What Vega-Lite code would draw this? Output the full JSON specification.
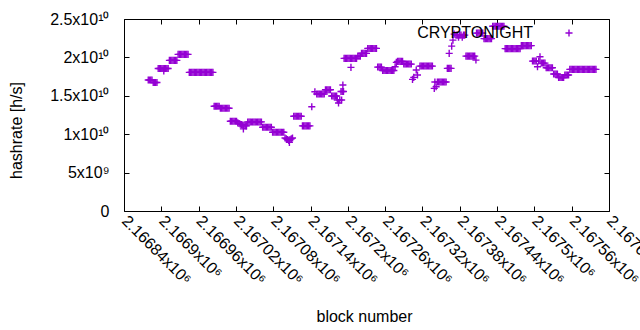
{
"$schema": "https://vega.github.io/schema/vega-lite/v6.json",
"width": 485, "height": 192,
"autosize": {"type": "none"},
"padding": {"left": 124, "top": 19, "right": 31, "bottom": 119},
"background": "white",
"config": {"view": {"stroke": "#000", "strokeWidth": 1}, "font": "Liberation Sans",
  "axis": {"grid": false, "domain": false, "tickColor": "#000", "labelColor": "#000", "titleColor": "#000", "labelFontSize": 16, "titleFontSize": 16, "titleFontWeight": "normal", "tickSize": -5, "labelOverlap": false, "labelFlush": false, "labelBound": false}},
"data": {"values": [
{"b":2166879,"h":1.705e10},{"b":2166881,"h":1.705e10},{"b":2166883,"h":1.705e10},{"b":2166885,"h":1.705e10},
{"b":2166887,"h":1.673e10},{"b":2166889,"h":1.673e10},{"b":2166891,"h":1.673e10},{"b":2166893,"h":1.673e10},
{"b":2166895,"h":1.855e10},{"b":2166897,"h":1.855e10},{"b":2166899,"h":1.855e10},{"b":2166901,"h":1.855e10},{"b":2166903,"h":1.855e10},{"b":2166905,"h":1.855e10},{"b":2166907,"h":1.855e10},{"b":2166909,"h":1.855e10},{"b":2166911,"h":1.855e10},{"b":2166904,"h":1.824e10},
{"b":2166913,"h":1.961e10},{"b":2166915,"h":1.961e10},{"b":2166917,"h":1.961e10},{"b":2166919,"h":1.961e10},{"b":2166921,"h":1.961e10},{"b":2166923,"h":1.961e10},{"b":2166925,"h":1.961e10},
{"b":2166927,"h":2.039e10},{"b":2166929,"h":2.039e10},{"b":2166931,"h":2.039e10},{"b":2166933,"h":2.039e10},{"b":2166935,"h":2.039e10},{"b":2166937,"h":2.039e10},{"b":2166939,"h":2.039e10},{"b":2166941,"h":2.039e10},{"b":2166943,"h":2.039e10},
{"b":2166945,"h":1.805e10},{"b":2166947,"h":1.805e10},{"b":2166949,"h":1.805e10},{"b":2166951,"h":1.805e10},{"b":2166953,"h":1.805e10},{"b":2166955,"h":1.805e10},{"b":2166957,"h":1.805e10},{"b":2166959,"h":1.805e10},{"b":2166961,"h":1.805e10},{"b":2166963,"h":1.805e10},{"b":2166965,"h":1.805e10},{"b":2166967,"h":1.805e10},{"b":2166969,"h":1.805e10},{"b":2166971,"h":1.805e10},{"b":2166973,"h":1.805e10},{"b":2166975,"h":1.805e10},{"b":2166977,"h":1.805e10},{"b":2166979,"h":1.805e10},{"b":2166981,"h":1.805e10},{"b":2166983,"h":1.805e10},
{"b":2166985,"h":1.364e10},{"b":2166987,"h":1.364e10},{"b":2166989,"h":1.364e10},{"b":2166991,"h":1.364e10},{"b":2166993,"h":1.364e10},
{"b":2166995,"h":1.338e10},{"b":2166997,"h":1.338e10},{"b":2166999,"h":1.338e10},{"b":2167001,"h":1.338e10},{"b":2167003,"h":1.338e10},{"b":2167005,"h":1.338e10},{"b":2167007,"h":1.338e10},{"b":2167009,"h":1.338e10},
{"b":2167011,"h":1.169e10},{"b":2167013,"h":1.169e10},{"b":2167015,"h":1.169e10},{"b":2167017,"h":1.169e10},{"b":2167019,"h":1.169e10},{"b":2167021,"h":1.169e10},
{"b":2167023,"h":1.147e10},{"b":2167025,"h":1.14e10},{"b":2167027,"h":1.13e10},{"b":2167029,"h":1.125e10},{"b":2167031,"h":1.12e10},{"b":2167033,"h":1.115e10},{"b":2167035,"h":1.11e10},{"b":2167037,"h":1.108e10},{"b":2167032,"h":1.069e10},
{"b":2167039,"h":1.16e10},{"b":2167041,"h":1.16e10},{"b":2167043,"h":1.16e10},{"b":2167045,"h":1.16e10},{"b":2167047,"h":1.16e10},{"b":2167049,"h":1.16e10},{"b":2167051,"h":1.16e10},{"b":2167053,"h":1.16e10},{"b":2167055,"h":1.16e10},{"b":2167057,"h":1.16e10},{"b":2167059,"h":1.16e10},{"b":2167061,"h":1.16e10},
{"b":2167063,"h":1.091e10},{"b":2167065,"h":1.091e10},{"b":2167067,"h":1.091e10},{"b":2167069,"h":1.091e10},{"b":2167071,"h":1.091e10},{"b":2167073,"h":1.091e10},{"b":2167075,"h":1.091e10},{"b":2167077,"h":1.091e10},
{"b":2167079,"h":1.026e10},{"b":2167081,"h":1.026e10},{"b":2167083,"h":1.026e10},{"b":2167085,"h":1.026e10},{"b":2167087,"h":1.026e10},{"b":2167089,"h":1.026e10},{"b":2167091,"h":1.026e10},{"b":2167093,"h":1.026e10},{"b":2167095,"h":1.026e10},{"b":2167097,"h":1.026e10},
{"b":2167099,"h":9.5e9},{"b":2167101,"h":9.4e9},{"b":2167103,"h":9.3e9},{"b":2167105,"h":9.2e9},{"b":2167107,"h":9.3e9},{"b":2167109,"h":9.4e9},{"b":2167111,"h":9.5e9},{"b":2167106,"h":8.94e9},
{"b":2167113,"h":1.234e10},{"b":2167115,"h":1.234e10},{"b":2167117,"h":1.234e10},{"b":2167119,"h":1.234e10},{"b":2167121,"h":1.234e10},{"b":2167123,"h":1.234e10},{"b":2167125,"h":1.234e10},
{"b":2167127,"h":1.108e10},{"b":2167129,"h":1.108e10},{"b":2167131,"h":1.108e10},{"b":2167133,"h":1.108e10},{"b":2167135,"h":1.108e10},{"b":2167137,"h":1.108e10},{"b":2167139,"h":1.108e10},
{"b":2167142,"h":1.358e10},
{"b":2167147,"h":1.553e10},{"b":2167150,"h":1.523e10},{"b":2167152,"h":1.523e10},{"b":2167154,"h":1.523e10},{"b":2167156,"h":1.523e10},{"b":2167158,"h":1.523e10},{"b":2167160,"h":1.523e10},{"b":2167162,"h":1.523e10},
{"b":2167164,"h":1.579e10},{"b":2167166,"h":1.579e10},{"b":2167168,"h":1.579e10},{"b":2167170,"h":1.579e10},{"b":2167172,"h":1.579e10},
{"b":2167174,"h":1.497e10},{"b":2167176,"h":1.497e10},{"b":2167178,"h":1.497e10},{"b":2167180,"h":1.497e10},{"b":2167182,"h":1.497e10},
{"b":2167183,"h":1.445e10},{"b":2167185,"h":1.406e10},{"b":2167187,"h":1.445e10},{"b":2167189,"h":1.556e10},{"b":2167190,"h":1.445e10},{"b":2167191,"h":1.556e10},{"b":2167192,"h":1.64e10},{"b":2167193,"h":1.556e10},
{"b":2167194,"h":1.987e10},{"b":2167196,"h":1.987e10},{"b":2167198,"h":1.987e10},{"b":2167200,"h":1.987e10},{"b":2167202,"h":1.987e10},{"b":2167204,"h":1.987e10},{"b":2167206,"h":1.987e10},{"b":2167208,"h":1.987e10},{"b":2167210,"h":1.987e10},{"b":2167212,"h":1.987e10},{"b":2167214,"h":1.987e10},{"b":2167205,"h":1.87e10},
{"b":2167216,"h":2.017e10},{"b":2167218,"h":2.017e10},{"b":2167220,"h":2.017e10},
{"b":2167222,"h":2.052e10},{"b":2167224,"h":2.052e10},{"b":2167226,"h":2.052e10},{"b":2167228,"h":2.052e10},{"b":2167230,"h":2.052e10},
{"b":2167232,"h":2.117e10},{"b":2167234,"h":2.117e10},{"b":2167236,"h":2.117e10},{"b":2167238,"h":2.117e10},{"b":2167240,"h":2.117e10},{"b":2167242,"h":2.117e10},{"b":2167244,"h":2.117e10},{"b":2167246,"h":2.117e10},
{"b":2167248,"h":1.874e10},{"b":2167250,"h":1.874e10},{"b":2167252,"h":1.874e10},{"b":2167254,"h":1.874e10},
{"b":2167256,"h":1.829e10},{"b":2167258,"h":1.829e10},{"b":2167260,"h":1.829e10},{"b":2167262,"h":1.829e10},{"b":2167264,"h":1.829e10},{"b":2167266,"h":1.829e10},{"b":2167268,"h":1.829e10},{"b":2167270,"h":1.829e10},{"b":2167272,"h":1.829e10},{"b":2167274,"h":1.829e10},{"b":2167276,"h":1.878e10},
{"b":2167278,"h":1.935e10},{"b":2167280,"h":1.948e10},{"b":2167282,"h":1.948e10},{"b":2167284,"h":1.948e10},{"b":2167286,"h":1.948e10},{"b":2167288,"h":1.948e10},
{"b":2167290,"h":1.913e10},{"b":2167292,"h":1.913e10},{"b":2167294,"h":1.913e10},{"b":2167296,"h":1.913e10},{"b":2167298,"h":1.913e10},{"b":2167300,"h":1.913e10},{"b":2167302,"h":1.913e10},
{"b":2167304,"h":1.714e10},{"b":2167306,"h":1.74e10},{"b":2167310,"h":1.835e10},{"b":2167312,"h":1.77e10},
{"b":2167316,"h":1.887e10},{"b":2167318,"h":1.887e10},{"b":2167320,"h":1.887e10},{"b":2167322,"h":1.887e10},{"b":2167324,"h":1.887e10},{"b":2167326,"h":1.887e10},{"b":2167328,"h":1.887e10},{"b":2167330,"h":1.887e10},{"b":2167332,"h":1.887e10},{"b":2167334,"h":1.887e10},{"b":2167336,"h":1.887e10},
{"b":2167339,"h":1.597e10},{"b":2167342,"h":1.618e10},
{"b":2167340,"h":1.679e10},{"b":2167344,"h":1.679e10},{"b":2167346,"h":1.679e10},{"b":2167348,"h":1.679e10},{"b":2167350,"h":1.679e10},{"b":2167352,"h":1.679e10},{"b":2167354,"h":1.679e10},{"b":2167356,"h":1.679e10},{"b":2167358,"h":1.679e10},
{"b":2167360,"h":1.857e10},{"b":2167362,"h":1.857e10},{"b":2167364,"h":1.857e10},{"b":2167366,"h":1.857e10},
{"b":2167363,"h":2.052e10},{"b":2167367,"h":2.147e10},{"b":2167369,"h":2.225e10},{"b":2167371,"h":2.303e10},
{"b":2167374,"h":2.29e10},{"b":2167376,"h":2.29e10},{"b":2167378,"h":2.264e10},{"b":2167380,"h":2.29e10},{"b":2167382,"h":2.29e10},{"b":2167384,"h":2.264e10},{"b":2167386,"h":2.29e10},{"b":2167388,"h":2.29e10},
{"b":2167390,"h":2.017e10},{"b":2167392,"h":2.017e10},{"b":2167394,"h":2.017e10},{"b":2167396,"h":2.017e10},{"b":2167398,"h":2.017e10},{"b":2167400,"h":2.017e10},{"b":2167402,"h":2.017e10},{"b":2167404,"h":2.017e10},{"b":2167406,"h":1.965e10},
{"b":2167407,"h":2.316e10},{"b":2167409,"h":2.316e10},{"b":2167411,"h":2.316e10},{"b":2167413,"h":2.316e10},{"b":2167415,"h":2.316e10},{"b":2167417,"h":2.316e10},
{"b":2167419,"h":2.244e10},{"b":2167421,"h":2.244e10},{"b":2167423,"h":2.244e10},{"b":2167425,"h":2.244e10},{"b":2167427,"h":2.244e10},{"b":2167429,"h":2.244e10},{"b":2167431,"h":2.244e10},
{"b":2167433,"h":2.406e10},{"b":2167435,"h":2.406e10},{"b":2167437,"h":2.406e10},{"b":2167439,"h":2.406e10},{"b":2167441,"h":2.406e10},{"b":2167443,"h":2.406e10},{"b":2167445,"h":2.406e10},{"b":2167447,"h":2.406e10},{"b":2167449,"h":2.406e10},{"b":2167451,"h":2.406e10},
{"b":2167453,"h":2.114e10},{"b":2167455,"h":2.114e10},{"b":2167457,"h":2.114e10},{"b":2167459,"h":2.114e10},{"b":2167461,"h":2.114e10},{"b":2167463,"h":2.114e10},{"b":2167465,"h":2.114e10},{"b":2167467,"h":2.114e10},{"b":2167469,"h":2.114e10},{"b":2167471,"h":2.114e10},{"b":2167473,"h":2.114e10},{"b":2167475,"h":2.114e10},{"b":2167477,"h":2.114e10},
{"b":2167479,"h":2.153e10},{"b":2167481,"h":2.153e10},{"b":2167483,"h":2.153e10},{"b":2167485,"h":2.153e10},{"b":2167487,"h":2.153e10},{"b":2167489,"h":2.153e10},{"b":2167491,"h":2.153e10},{"b":2167493,"h":2.153e10},{"b":2167495,"h":2.153e10},
{"b":2167497,"h":1.952e10},{"b":2167499,"h":1.952e10},{"b":2167501,"h":1.952e10},{"b":2167503,"h":1.952e10},{"b":2167505,"h":1.878e10},{"b":2167507,"h":1.952e10},{"b":2167509,"h":2.008e10},
{"b":2167511,"h":1.926e10},{"b":2167513,"h":1.926e10},{"b":2167515,"h":1.926e10},{"b":2167517,"h":1.926e10},
{"b":2167519,"h":1.865e10},{"b":2167521,"h":1.865e10},{"b":2167523,"h":1.865e10},{"b":2167525,"h":1.865e10},{"b":2167527,"h":1.865e10},{"b":2167529,"h":1.865e10},
{"b":2167531,"h":1.783e10},{"b":2167533,"h":1.783e10},{"b":2167535,"h":1.783e10},{"b":2167537,"h":1.783e10},
{"b":2167539,"h":1.738e10},{"b":2167541,"h":1.738e10},{"b":2167543,"h":1.738e10},{"b":2167545,"h":1.738e10},{"b":2167547,"h":1.738e10},
{"b":2167549,"h":1.77e10},{"b":2167551,"h":1.77e10},{"b":2167553,"h":1.77e10},{"b":2167555,"h":1.77e10},
{"b":2167557,"h":1.844e10},{"b":2167559,"h":1.844e10},{"b":2167561,"h":1.844e10},{"b":2167563,"h":1.844e10},{"b":2167565,"h":1.844e10},{"b":2167567,"h":1.844e10},{"b":2167569,"h":1.844e10},{"b":2167571,"h":1.844e10},{"b":2167573,"h":1.844e10},{"b":2167575,"h":1.844e10},{"b":2167577,"h":1.844e10},{"b":2167579,"h":1.844e10},{"b":2167581,"h":1.844e10},{"b":2167583,"h":1.844e10},{"b":2167585,"h":1.844e10},{"b":2167587,"h":1.844e10},{"b":2167589,"h":1.844e10},{"b":2167591,"h":1.844e10},{"b":2167593,"h":1.844e10},{"b":2167595,"h":1.844e10},{"b":2167597,"h":1.844e10},{"b":2167599,"h":1.844e10}
]},
"layer": [
 {"mark": {"type": "point", "shape": "M-1,0H1M0,-1V1", "size": 50, "strokeWidth": 1.4, "filled": false, "opacity": 1},
  "encoding": {
   "x": {"field": "b", "type": "quantitative", "scale": {"domain": [2166840, 2167620], "nice": false, "zero": false},
     "axis": {"orient": "bottom", "values": [2166840,2166900,2166960,2167020,2167080,2167140,2167200,2167260,2167320,2167380,2167440,2167500,2167560,2167620],
       "labelExpr": "format(datum.value/1e6, '.6~g') + 'x10⁶'", "labelAngle": 45, "labelAlign": "left", "labelBaseline": "middle", "labelPadding": 12,
       "title": "block number", "titleX": 240, "titleY": 105, "titleBaseline": "middle", "titleAlign": "center"}},
   "y": {"field": "h", "type": "quantitative", "scale": {"domain": [0, 2.5e10], "nice": false, "zero": false},
     "axis": {"orient": "left", "values": [0, 5e9, 1e10, 1.5e10, 2e10, 2.5e10],
       "labelExpr": "datum.value == 0 ? '0' : (datum.value < 1e10 ? format(datum.value/1e9, '~g') + 'x10⁹' : format(datum.value/1e10, '~g') + 'x10¹⁰')",
       "labelPadding": 20, "labelBaseline": "middle",
       "title": "hashrate [h/s]", "titleX": -108, "titleY": 111, "titleAngle": -90, "titleBaseline": "middle", "titleAlign": "center"}},
   "color": {"datum": "CRYPTONIGHT", "scale": {"range": ["#9400d3"]},
     "legend": {"orient": "none", "legendX": 437, "legendY": 6, "title": null, "padding": 0, "labelFontSize": 16, "labelColor": "#000", "labelAlign": "right", "labelOffset": -44, "symbolType": "M-1,0H1M0,-1V1", "symbolSize": 50, "symbolStrokeWidth": 1.4, "symbolFillColor": "transparent"}}
  }},
 {"mark": {"type": "point", "opacity": 0},
  "encoding": {
   "x": {"field": "b", "type": "quantitative", "axis": {"orient": "top", "values": [2166840,2166900,2166960,2167020,2167080,2167140,2167200,2167260,2167320,2167380,2167440,2167500,2167560,2167620], "labels": false, "title": null}},
   "y": {"field": "h", "type": "quantitative", "axis": {"orient": "right", "values": [0, 5e9, 1e10, 1.5e10, 2e10, 2.5e10], "labels": false, "title": null}}
  }}
],
"resolve": {"axis": {"x": "independent", "y": "independent"}}
}
